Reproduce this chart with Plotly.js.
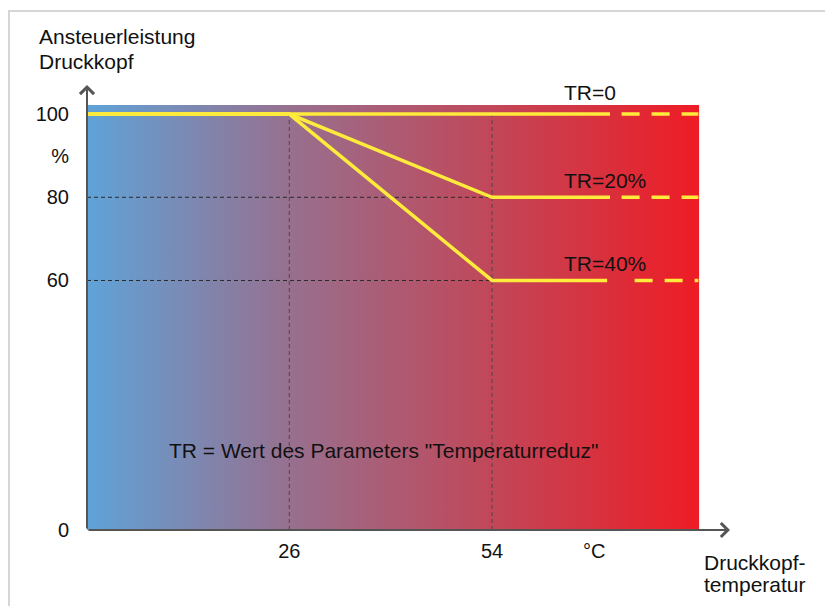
<!DOCTYPE html>
<html>
<head>
<meta charset="utf-8">
<script src="https://cdn.plot.ly/plotly-3.0.1.min.js"></script>
<style>
  html, body { margin: 0; padding: 0; background: #fff; overflow: hidden; }
  #chart { width: 825px; height: 606px; }
  #frame { position: absolute; left: 8px; top: 10px; width: 900px; height: 700px;
           border-left: 2px solid #d6d6d6; border-top: 2px solid #d6d6d6;
           pointer-events: none; z-index: 5; }
</style>
</head>
<body>
<div id="frame"></div>
<div id="chart"></div>
<script>
// ---- data ----
const xRange = [-1.94, 86.87];           // temperature axis extent
const yRange = [0, 107];                 // power axis extent
const tempTickVals = [26, 54, 68.1];
const tempTickText = ['26', '54', '°C'];
const powerTickVals = [0, 60, 80, 90, 100];
const powerTickText = ['0', '60', '80', '%', '100'];

const zoneTemp = [-1.94, 82.6];          // coloured temperature zone
const zoneTop = 102.2;

const seriesNames = ['TR=0', 'TR=20%', 'TR=40%'];
const solidTemp = [-1.94, 26, 54];       // common breakpoints
const solidPower = {
  'TR=0':   [100, 100, 100, 100],
  'TR=20%': [100, 100, 80, 80],
  'TR=40%': [100, 100, 60, 60]
};
const solidEnd = {'TR=0': 70.3, 'TR=20%': 70.3, 'TR=40%': 69.9};
const dashStart = {'TR=0': 71.9, 'TR=20%': 71.9, 'TR=40%': 73.7};
const dashEnd = 82.5;
const endPower = {'TR=0': 100, 'TR=20%': 80, 'TR=40%': 60};
const labelTemp = 63.7;
const labelPower = {'TR=0': 105.3, 'TR=20%': 84.0, 'TR=40%': 64.2};

const refTemps = [26, 54];               // vertical dashed guides
const refPowers = [80, 60];              // horizontal dashed guides
const refPowerTop = 100;

const noteText = 'TR = Wert des Parameters "Temperaturreduz"';
const notePos = [39.0, 19.0];

// ---- build ----
const FONT = 'Liberation Sans, Arial, sans-serif';
const YEL = '#ffeb3b';
const traces = [];

traces.push({
  x: [zoneTemp[0], zoneTemp[1], zoneTemp[1], zoneTemp[0], zoneTemp[0]],
  y: [0, 0, zoneTop, zoneTop, 0],
  mode: 'lines', line: {width: 0}, fill: 'toself',
  fillgradient: {type: 'horizontal',
    colorscale: [[0, '#5fa3d8'], [0.33, '#97708f'], [0.66, '#c14759'], [1, '#ee1c25']]},
  hoverinfo: 'skip'
});

refTemps.forEach(t => traces.push({
  x: [t, t], y: [0, refPowerTop], mode: 'lines',
  line: {color: '#4a4a4a', width: 1, dash: '4px,3px'}, hoverinfo: 'skip'
}));
refPowers.forEach(p => traces.push({
  x: [xRange[0], refTemps[1]], y: [p, p], mode: 'lines',
  line: {color: '#2a2a2a', width: 1, dash: '4px,3px'}, hoverinfo: 'skip'
}));

seriesNames.forEach(n => {
  traces.push({
    x: solidTemp.concat([solidEnd[n]]), y: solidPower[n], mode: 'lines',
    line: {color: YEL, width: 3.5}, hoverinfo: 'skip'
  });
  traces.push({
    x: [dashStart[n], dashEnd], y: [endPower[n], endPower[n]], mode: 'lines',
    line: {color: YEL, width: 3.5, dash: '18px,12px'}, hoverinfo: 'skip'
  });
});

const annotations = [];
seriesNames.forEach(n => annotations.push({
  x: labelTemp, y: labelPower[n], xref: 'x', yref: 'y', text: n,
  showarrow: false, xanchor: 'left', yanchor: 'middle',
  font: {family: FONT, size: 21, color: '#111'}
}));
annotations.push({
  x: notePos[0], y: notePos[1], xref: 'x', yref: 'y', text: noteText,
  showarrow: false, xanchor: 'center', yanchor: 'middle',
  font: {family: FONT, size: 21, color: '#111'}
});
// axes with arrows
annotations.push({
  x: xRange[0], y: yRange[1], ax: xRange[0], ay: 0, xref: 'x', yref: 'y',
  axref: 'x', ayref: 'y', text: '', showarrow: true, arrowhead: 4,
  arrowsize: 1.35, arrowwidth: 2, arrowcolor: '#555'
});
annotations.push({
  x: xRange[1], y: 0, ax: xRange[0], ay: 0, xref: 'x', yref: 'y',
  axref: 'x', ayref: 'y', text: '', showarrow: true, arrowhead: 4,
  arrowsize: 1.35, arrowwidth: 2, arrowcolor: '#555'
});
// axis titles
[['Ansteuerleistung', 1.110], ['Druckkopf', 1.052]].forEach(([t, y]) => annotations.push({
  x: -0.077, y: y, xref: 'paper', yref: 'paper', text: t, showarrow: false,
  xanchor: 'left', yanchor: 'middle', font: {family: FONT, size: 21, color: '#111'}
}));
[['Druckkopf-', -0.073], ['temperatur', -0.122]].forEach(([t, y]) => annotations.push({
  x: 0.956, y: y, xref: 'paper', yref: 'paper', text: t, showarrow: false,
  xanchor: 'left', yanchor: 'middle', font: {family: FONT, size: 21, color: '#111'}
}));

const layout = {
  width: 825, height: 606,
  margin: {l: 87, r: 95, t: 85, b: 76, pad: 0},
  paper_bgcolor: '#ffffff', plot_bgcolor: 'rgba(0,0,0,0)',
  showlegend: false,
  font: {family: FONT, color: '#111'},
  xaxis: {range: xRange, showline: false, showgrid: false, zeroline: false,
    tickvals: tempTickVals, ticktext: tempTickText, ticks: '',
    ticklabelstandoff: 7, tickfont: {family: FONT, size: 20, color: '#111'},
    fixedrange: true},
  yaxis: {range: yRange, showline: false, showgrid: false, zeroline: false,
    tickvals: powerTickVals, ticktext: powerTickText, ticks: '',
    ticklabelstandoff: 17, tickfont: {family: FONT, size: 20, color: '#111'},
    fixedrange: true},
  annotations: annotations
};

Plotly.newPlot('chart', traces, layout, {displayModeBar: false, staticPlot: true});
</script>
</body>
</html>
